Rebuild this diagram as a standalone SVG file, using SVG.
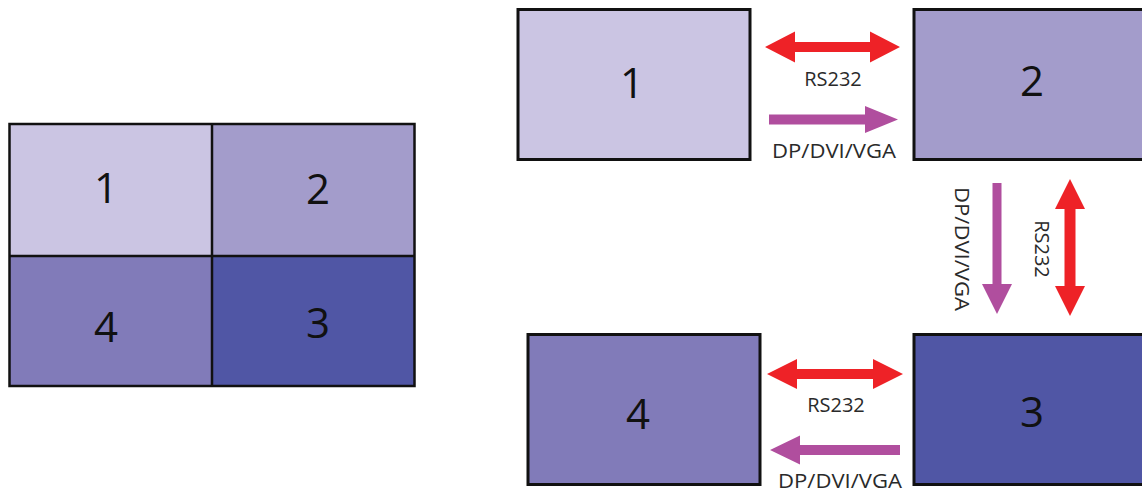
<svg xmlns="http://www.w3.org/2000/svg" width="1142" height="494" viewBox="0 0 1142 494">
<style>
.c1{fill:#CBC5E3}.c2{fill:#A39CCB}.c4{fill:#817BB9}.c3{fill:#5056A5}
.grid{fill:none;stroke:#111;stroke-width:2.5}
.box{stroke:#111;stroke-width:3}
.num{font-family:"Open Sans","DejaVu Sans",sans-serif;font-size:42px;fill:#111;text-anchor:middle}
.lbl{font-family:"Open Sans","DejaVu Sans",sans-serif;font-size:20px;fill:#2a2a2a;text-anchor:middle}
.rs{fill:#EE2227}
.dp{fill:#B04E9E}
</style>
<rect width="1142" height="494" fill="#fff"/>
<g id="grid">
  <g id="grid-1"><rect class="c1" x="9.5" y="124" width="202.5" height="132"/><text class="num" x="106" y="203">1</text></g>
  <g id="grid-2"><rect class="c2" x="212" y="124" width="202.5" height="132"/><text class="num" x="318" y="204">2</text></g>
  <g id="grid-4"><rect class="c4" x="9.5" y="256" width="202.5" height="130"/><text class="num" x="106" y="342">4</text></g>
  <g id="grid-3"><rect class="c3" x="212" y="256" width="202.5" height="130"/><text class="num" x="318" y="338">3</text></g>
  <rect class="grid" x="9.5" y="124" width="405" height="262"/>
  <line class="grid" x1="212" y1="124" x2="212" y2="386"/>
  <line class="grid" x1="9.5" y1="256" x2="414.5" y2="256"/>
</g>
<g id="node-1"><rect class="box c1" x="518" y="9.5" width="232" height="150"/><text class="num" x="632" y="98">1</text></g>
<g id="node-2"><rect class="box c2" x="914" y="9.5" width="232" height="150"/><text class="num" x="1032" y="96">2</text></g>
<g id="node-3"><rect class="box c3" x="914" y="334.5" width="232" height="150"/><text class="num" x="1032" y="427">3</text></g>
<g id="node-4"><rect class="box c4" x="528" y="334.5" width="232" height="150"/><text class="num" x="638" y="429">4</text></g>
<g id="connectors">
  <polygon class="rs" points="765,47 795,31.5 795,42 870,42 870,31.5 900,47 870,62.5 870,52 795,52 795,62.5"/>
  <text class="lbl" x="833" y="86">RS232</text>
  <polygon class="dp" points="769,114.5 865,114.5 865,106 898,119.5 865,133 865,124.5 769,124.5"/>
  <text class="lbl" x="834" y="158" font-size="21" textLength="124" lengthAdjust="spacingAndGlyphs">DP/DVI/VGA</text>
  <polygon class="dp" points="992.5,183 1001.5,183 1001.5,284 1012,284 997,314 982,284 992.5,284"/>
  <text class="lbl" transform="translate(955,249) rotate(90)" font-size="21" textLength="124" lengthAdjust="spacingAndGlyphs">DP/DVI/VGA</text>
  <polygon class="rs" points="1070,179 1085,209 1075.5,209 1075.5,286 1085,286 1070,316 1055,286 1064.5,286 1064.5,209 1055,209"/>
  <text class="lbl" transform="translate(1035,249) rotate(90)">RS232</text>
  <polygon class="rs" points="767,374 797,359 797,369 873,369 873,359 903,374 873,389 873,379 797,379 797,389"/>
  <text class="lbl" x="836" y="411.5">RS232</text>
  <polygon class="dp" points="770,450 800,435.5 800,445 900,445 900,455 800,455 800,464.5"/>
  <text class="lbl" x="840" y="488" font-size="19" textLength="124" lengthAdjust="spacingAndGlyphs">DP/DVI/VGA</text>
</g>
</svg>
